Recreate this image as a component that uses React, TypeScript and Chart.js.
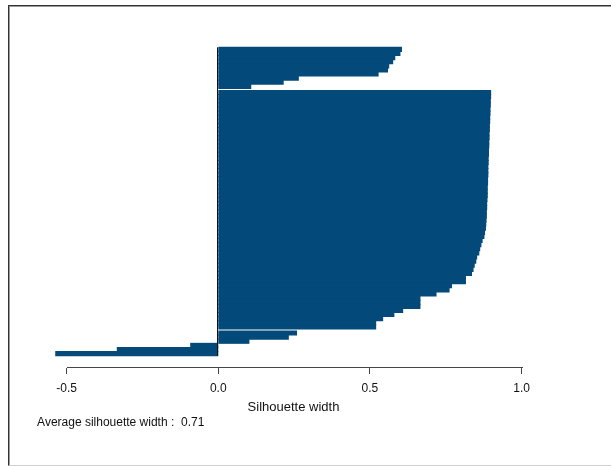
import React, { useEffect, useRef } from "react";
import { Chart, registerables } from "chart.js";

Chart.register(...registerables);

// Silhouette widths, sorted within each cluster (top to bottom)
const CLUSTER_1 = [0.604, 0.599, 0.582, 0.575, 0.562, 0.558, 0.527, 0.264, 0.214, 0.107];
const CLUSTER_2 = [
  0.898, 0.898, 0.897, 0.897, 0.896, 0.896, 0.895, 0.895, 0.894, 0.894,
  0.893, 0.893, 0.892, 0.892, 0.891, 0.891, 0.89, 0.89, 0.889, 0.889,
  0.889, 0.888, 0.888, 0.887, 0.887, 0.887, 0.886, 0.885, 0.885, 0.884,
  0.884, 0.883, 0.882, 0.881, 0.878, 0.876, 0.87, 0.866, 0.862, 0.859,
  0.852, 0.849, 0.844, 0.84, 0.835, 0.815, 0.815, 0.769, 0.761, 0.718,
  0.665, 0.665, 0.665, 0.608, 0.579, 0.542, 0.519, 0.519,
];
const CLUSTER_3 = [0.258, 0.231, 0.101, -0.091, -0.333, -0.536];
const CLUSTERS = [CLUSTER_1, CLUSTER_2, CLUSTER_3];

const X_TICKS = [-0.5, 0, 0.5, 1.0];
const X_TITLE = "Silhouette width";
const AVG_WIDTH = 0.71;
const AVG_LABEL = "Average silhouette width :  " + AVG_WIDTH.toFixed(2);

const BAR_COLOR = "#034a7b";
const CLUSTER_GAP = 0.5;
const FONT = "'Liberation Sans', Arial, Helvetica, sans-serif";

export default function App() {
  const ref = useRef<HTMLCanvasElement | null>(null);

  useEffect(() => {
    if (!ref.current) return;

    const points: { x: number; y: number }[] = [];
    let pos = 0;
    CLUSTERS.forEach((cl, ci) => {
      if (ci > 0) pos += CLUSTER_GAP;
      cl.forEach((v) => {
        points.push({ x: v, y: pos });
        pos += 1;
      });
    });
    const lastCenter = pos - 1;
    const barTop = -0.5;
    const barBottom = lastCenter + 0.5;
    const yExt = (barBottom - barTop) * 0.04;

    const all = CLUSTERS.flat();
    const xLo = Math.min(0, ...all);
    const xExt = (1 - xLo) * 0.04;
    const xMin = xLo - xExt;
    const xMax = 1 + xExt + 0.032;

    const rAxis = {
      id: "rAxis",
      afterDraw(chart: any) {
        const { ctx, chartArea, scales } = chart;
        const xs = scales.x;
        const ys = scales.y;
        ctx.save();
        // axis line spanning first to last tick
        ctx.strokeStyle = "#444";
        ctx.lineWidth = 1;
        const ay = Math.round(chartArea.bottom) - 0.5;
        ctx.beginPath();
        ctx.moveTo(Math.round(xs.getPixelForValue(X_TICKS[0])), ay);
        ctx.lineTo(Math.round(xs.getPixelForValue(X_TICKS[X_TICKS.length - 1])) + 1, ay);
        ctx.stroke();
        // zero line
        const zx = Math.floor(xs.getPixelForValue(0)) - 0.5;
        ctx.strokeStyle = "#111";
        ctx.beginPath();
        ctx.moveTo(zx, ys.getPixelForValue(barTop));
        ctx.lineTo(zx, ys.getPixelForValue(barBottom));
        ctx.stroke();
        ctx.restore();
      },
    };

    const chart = new Chart(ref.current, {
      type: "bar",
      data: {
        datasets: [
          {
            data: points as any,
            backgroundColor: BAR_COLOR,
            borderWidth: 0,
            barPercentage: 1,
            categoryPercentage: 1,
            inflateAmount: 0.5,
          },
        ],
      },
      options: {
        indexAxis: "y",
        animation: false,
        responsive: false,
        devicePixelRatio: 1,
        layout: { padding: { left: 37.1, right: 61.1, top: 35, bottom: 37 } },
        plugins: {
          legend: { display: false },
          tooltip: { enabled: false },
          title: {
            display: true,
            position: "bottom",
            align: "start",
            text: AVG_LABEL,
            color: "#111",
            font: { family: FONT, size: 12, weight: "normal" },
            padding: { top: 0.6, bottom: 0 },
          },
        },
        scales: {
          y: {
            type: "linear",
            display: false,
            reverse: true,
            offset: false,
            min: barTop - yExt,
            max: barBottom + yExt,
            afterBuildTicks: (s: any) => {
              s.ticks = [{ value: s.min }, { value: s.max }];
            },
          },
          x: {
            type: "linear",
            position: "bottom",
            offset: false,
            min: xMin,
            max: xMax,
            border: { display: false },
            grid: {
              drawOnChartArea: false,
              drawTicks: true,
              tickLength: 6,
              color: "#444",
              lineWidth: 1,
            },
            afterBuildTicks: (s: any) => {
              s.ticks = X_TICKS.map((v) => ({ value: v }));
            },
            afterFit: (s: any) => {
              s.height = 47;
            },
            ticks: {
              color: "#111",
              padding: 7,
              maxRotation: 0,
              autoSkip: false,
              font: { family: FONT, size: 12 },
              callback: (v: any) => Number(v).toFixed(1),
            },
            title: {
              display: true,
              text: X_TITLE,
              color: "#111",
              font: { family: FONT, size: 13 },
              padding: { top: 0, bottom: 0 },
            },
          },
        },
      } as any,
      plugins: [rAxis],
    });

    return () => chart.destroy();
  }, []);

  return (
    <div>
      <div
        style={{
          position: "fixed",
          left: 8,
          top: 5,
          width: 602,
          height: 459,
          borderTop: "1px solid #333",
          borderLeft: "1px solid #333",
          borderBottom: "1px solid #d0d0d0",
          boxShadow: "inset 1px 1px 0 #999",
          boxSizing: "content-box",
        }}
      />
      <canvas
        ref={ref}
        width={611}
        height={467}
        style={{ position: "fixed", left: 0, top: 0, width: 611, height: 467 }}
      />
    </div>
  );
}
